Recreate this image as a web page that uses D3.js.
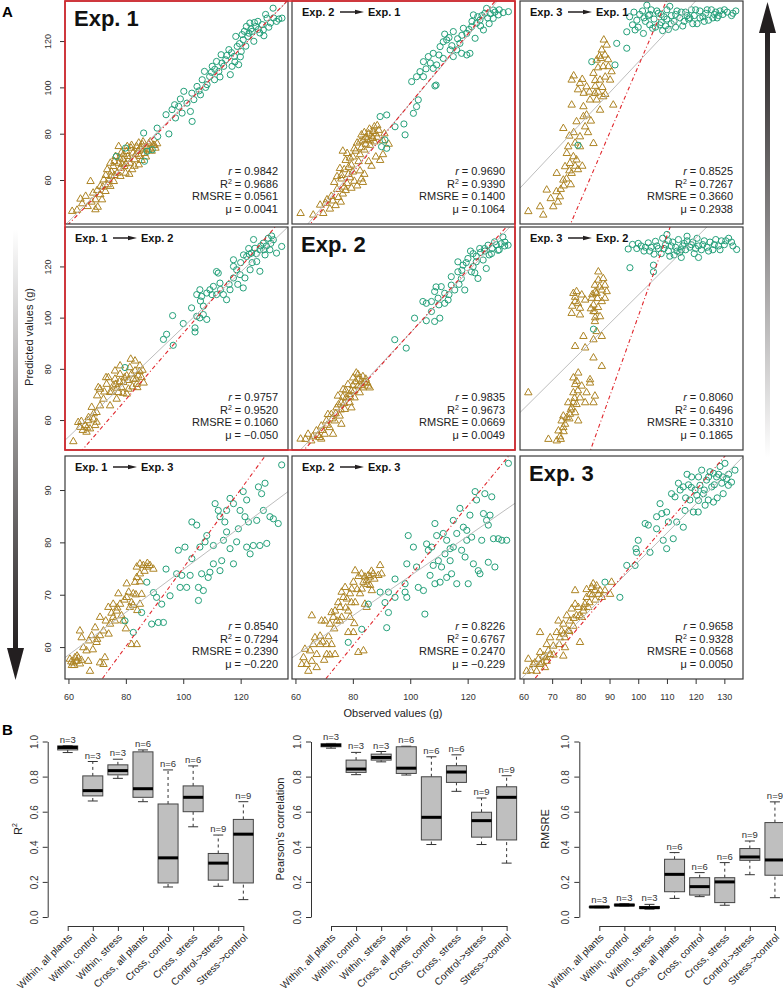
<!DOCTYPE html>
<html><head><meta charset="utf-8">
<script src="https://cdn.jsdelivr.net/npm/d3@7"></script>
<style>body{margin:0;background:#fff}svg{display:block;font-family:"Liberation Sans",Arial,sans-serif}</style>
</head><body><svg id="c" width="783" height="994"></svg>
<script>
// ---------------- DATA ----------------
const xDomain = [58.8, 136.5];
const yDomains = [[41.0, 137.3], [48.3, 135.4], [53.9, 96.5]];
const yTicksRow = [[60, 80, 100, 120], [60, 80, 100, 120], [60, 70, 80, 90]];
const xTicksCol = [[60, 80, 100, 120], [60, 80, 100, 120], [60, 70, 80, 90, 100, 110, 120, 130]];

const fromExp = ["Exp. 1", "Exp. 2", "Exp. 3", "Exp. 1", "Exp. 2", "Exp. 3", "Exp. 1", "Exp. 2", "Exp. 3"];
const toExp   = ["Exp. 1", "Exp. 1", "Exp. 1", "Exp. 2", "Exp. 2", "Exp. 2", "Exp. 3", "Exp. 3", "Exp. 3"];

const statR     = ["0.9842", "0.9690", "0.8525", "0.9757", "0.9835", "0.8060", "0.8540", "0.8226", "0.9658"];
const statR2    = ["0.9686", "0.9390", "0.7267", "0.9520", "0.9673", "0.6496", "0.7294", "0.6767", "0.9328"];
const statRMSRE = ["0.0561", "0.1400", "0.3660", "0.1060", "0.0669", "0.3310", "0.2390", "0.2470", "0.0568"];
const statMu    = ["0.0041", "0.1064", "0.2938", "\u22120.050", "0.0049", "0.1865", "\u22120.220", "\u22120.229", "0.0050"];

// regression (grey) and reference (red dash-dot) lines: [intercept, slope]
const fitLines = [[-32.9, 1.248], [-52.8, 1.459], [-21.1, 1.32], [-11.0, 1.073], [-25.4, 1.194], [-2.5, 1.113], [34.0, 0.408], [35.6, 0.380], [21.4, 0.549]];
const refLines = [[-35.0, 1.265], [-56.3, 1.494], [-179.5, 2.886], [-35.7, 1.296], [-29.5, 1.235], [-213.5, 3.14], [0.1, 0.750], [6.8, 0.668], [12.9, 0.642]];

// stress plants (triangles), [observed, predicted]
const stress11 = [[61.3,46.5],[64.2,51.8],[64.8,49.8],[66.7,48.6],[67.7,59.4],[68.6,54.4],[69.4,51.5],[70.2,48.3],[71.1,57.3],[71.1,53.7],[72.3,60.1],[72.9,55.1],[73.5,64.5],[73.7,58.0],[74.6,67.3],[74.9,61.6],[75.6,65.9],[75.8,59.4],[76.4,70.2],[77.0,63.0],[77.5,67.3],[78.1,65.2],[78.4,71.7],[79.0,68.8],[79.5,65.9],[80.2,72.4],[80.7,70.2],[81.4,67.3],[81.8,73.8],[82.5,71.7],[83.0,68.8],[83.7,74.5],[84.2,72.4],[84.9,70.2],[85.7,75.3],[86.2,73.1],[87.2,74.5],[88.0,75.7],[88.6,73.4],[89.5,75.1],[90.3,73.8],[90.9,75.7],[82.2,64.5],[78.1,61.6],[74.6,57.3],[71.7,51.5],[69.4,47.2],[77.5,74.5],[79.9,63.0],[84.5,66.6],[73.0,62.0],[75.0,63.5],[76.0,68.0],[77.8,69.5],[79.2,71.0],[80.0,67.0],[81.0,69.0],[82.0,75.0],[83.5,71.0],[85.0,73.8],[86.5,71.5],[87.8,73.0],[89.0,72.5],[86.0,76.5],[84.5,76.0],[80.5,74.5],[76.0,62.0],[74.0,60.0],[72.0,57.0],[70.0,55.5],[68.0,50.5],[66.0,53.0],[63.0,47.0],[78.7,66.8],[81.2,62.5],[83.0,66.0],[85.5,68.5],[88.5,76.5],[90.0,75.0],[87.0,70.0]];
const stress12 = [[61.8,45.6],[66.2,44.9],[68.6,49.2],[69.7,45.6],[70.5,50.0],[72.0,47.5],[73.0,51.0],[74.0,49.0],[75.0,52.5],[75.8,50.5],[76.5,54.0],[77.5,55.5],[74.5,56.0],[73.5,59.0],[76.0,60.5],[78.0,58.5],[79.0,61.0],[80.5,59.5],[78.5,62.5],[77.0,64.5],[80.0,63.5],[81.5,57.5],[79.5,66.5],[77.5,68.5],[78.0,71.5],[80.0,70.0],[81.0,72.5],[82.0,68.0],[83.0,74.0],[82.5,76.5],[84.0,73.0],[85.0,77.5],[86.0,75.0],[86.5,79.0],[87.5,76.5],[88.5,78.5],[89.0,81.5],[87.0,81.0],[90.5,77.0],[85.5,68.0],[88.0,70.0],[86.5,66.0],[76.5,72.5],[75.5,65.0],[84.0,80.5],[88.5,83.5],[91.0,80.0],[92.5,75.5],[83.0,60.5],[84.0,62.5],[82.5,64.0],[89.5,68.5],[90.5,71.0],[83.5,77.0],[84.5,78.5],[85.5,80.0],[86.0,77.0],[87.0,78.0],[88.0,80.0],[84.5,75.5],[85.8,82.0],[87.5,83.0],[83.0,79.5],[81.5,76.0],[80.5,73.5],[79.0,69.5],[82.5,71.0],[78.5,65.5],[76.0,62.0],[74.5,61.5],[72.5,53.0],[71.0,51.5],[77.0,57.0],[79.5,56.5],[83.5,59.0]];
const stress13 = [[61.7,46.4],[66.9,44.9],[65.8,48.5],[68.1,55.7],[70.4,48.5],[71.6,62.9],[72.7,52.8],[73.9,60.0],[74.5,65.8],[75.1,71.5],[75.6,74.4],[76.2,67.2],[76.8,62.9],[77.4,70.1],[78.5,68.7],[79.7,74.4],[79.7,78.7],[81.5,83.0],[80.9,87.4],[82.0,88.1],[84.4,75.8],[76.8,103.2],[79.7,101.8],[82.0,100.3],[76.8,92.4],[80.9,91.7],[73.9,82.3],[78.5,85.2],[85.5,94.6],[86.7,103.2],[87.8,109.0],[89.0,118.3],[88.4,114.0],[85.5,111.8],[84.4,106.1],[90.2,103.2],[90.7,106.8],[91.3,92.4],[86.7,90.2],[87.8,96.0],[84.9,97.4],[83.2,94.6],[89.6,109.0],[87.3,116.2],[74.0,57.5],[76.5,58.0],[79.0,64.5],[80.5,66.0],[78.0,76.0],[82.5,80.5],[83.5,85.5],[85.0,100.5],[81.0,97.5],[88.5,104.5],[86.0,108.5],[89.5,112.0],[77.5,105.0],[79.0,99.0],[80.5,103.5],[83.0,98.0],[85.0,103.0],[86.0,98.0],[87.5,100.0],[88.5,97.0],[87.0,112.5],[88.0,120.5],[86.5,113.5],[76.0,79.0],[77.5,80.5],[78.0,66.0],[76.0,64.0],[75.0,60.5],[73.0,56.0],[71.5,55.0],[69.5,52.0],[72.0,50.5]];
const stress21 = [[61.7,51.6],[63.4,59.1],[64.0,57.2],[65.8,57.9],[66.3,55.3],[66.9,59.8],[67.5,56.6],[68.7,60.4],[69.3,57.9],[69.8,59.2],[68.1,65.0],[69.8,63.0],[71.0,65.6],[70.4,72.7],[72.2,68.2],[73.3,74.0],[73.9,76.6],[74.5,70.8],[75.6,73.4],[76.2,76.0],[76.8,68.2],[78.0,77.9],[78.5,72.7],[79.1,74.7],[80.3,77.3],[80.9,72.1],[81.4,80.5],[81.7,83.8],[82.6,76.0],[83.2,79.2],[83.8,74.0],[84.3,77.3],[84.9,81.2],[85.5,76.6],[84.0,72.7],[80.3,70.2],[77.4,70.8],[74.5,65.6],[76.2,79.2],[73.1,76.6],[71.0,72.1],[78.0,81.2],[83.2,83.1],[75.0,71.0],[76.5,74.0],[77.8,75.0],[79.5,76.5],[80.8,75.5],[82.0,78.0],[83.5,76.0],[84.8,79.0],[85.8,79.5],[86.2,74.5],[82.3,73.0],[79.0,70.5],[77.0,72.5],[72.5,71.0],[70.0,69.5],[68.8,62.5],[67.0,61.0],[65.0,56.0],[64.5,59.5],[66.5,57.0]];
const stress22 = [[61.8,52.6],[64.4,54.5],[65.5,51.9],[67.3,55.8],[68.4,53.2],[69.0,57.7],[70.2,54.5],[70.8,59.7],[71.9,57.1],[72.5,62.2],[73.7,59.7],[74.3,64.8],[74.8,69.4],[75.4,61.6],[76.0,66.8],[76.6,71.9],[77.2,64.2],[77.7,68.7],[78.3,73.9],[78.9,66.8],[79.5,71.3],[80.1,76.5],[80.6,68.7],[81.2,78.4],[81.8,73.3],[82.4,70.7],[83.0,75.2],[83.5,72.6],[84.1,74.6],[85.3,73.3],[85.9,72.6],[81.8,77.8],[71.3,62.2],[69.0,52.6],[73.1,54.5],[76.0,58.4],[79.5,64.8],[74.0,62.5],[75.0,66.0],[76.5,69.0],[77.5,71.5],[78.8,70.0],[80.0,73.5],[81.0,75.0],[82.0,76.0],[83.5,77.0],[84.5,76.0],[85.0,74.5],[82.8,73.5],[80.5,71.5],[79.0,69.0],[77.0,66.5],[75.8,64.0],[72.8,60.5],[71.0,58.0],[69.5,56.0],[67.8,54.0],[66.0,53.5],[63.5,52.5]];
const stress23 = [[61.7,70.7],[68.7,52.5],[71.6,51.9],[72.7,53.5],[72.2,55.8],[73.9,57.1],[73.3,59.7],[74.5,58.4],[75.1,61.0],[73.9,61.6],[76.2,62.3],[76.8,64.8],[78.0,62.9],[78.5,66.1],[77.4,66.8],[79.1,59.7],[75.6,66.8],[77.4,70.7],[79.7,68.7],[81.5,66.8],[84.4,66.8],[84.9,69.4],[82.0,70.7],[80.3,73.3],[78.0,73.9],[77.4,76.5],[79.1,78.4],[78.5,75.2],[83.2,75.8],[83.2,74.5],[87.3,81.0],[84.4,84.3],[78.0,88.8],[81.5,88.2],[80.9,92.7],[84.4,91.4],[87.3,92.7],[85.5,94.6],[84.9,98.5],[86.7,100.4],[84.9,102.4],[84.4,105.0],[83.8,107.6],[85.5,109.5],[84.9,112.7],[86.1,114.7],[87.8,115.3],[88.4,112.7],[89.0,110.2],[87.3,110.8],[88.4,107.6],[86.1,117.9],[87.3,106.3],[80.3,108.9],[78.5,110.2],[77.4,109.5],[81.5,106.9],[78.0,106.3],[79.7,103.7],[76.8,101.7],[79.7,101.1],[84.4,102.4],[85.0,110.0],[86.5,112.0],[85.8,107.5],[84.0,109.0],[86.0,104.0],[83.5,103.5],[85.0,100.0],[79.0,105.5],[78.0,108.0],[77.0,104.5],[76.5,64.0],[77.8,68.5],[79.0,71.5],[76.0,60.5],[74.0,55.5],[73.0,52.5]];
const stress31 = [[64.0,63.1],[64.6,61.8],[67.5,55.4],[69.8,60.9],[71.0,62.2],[72.7,58.0],[72.2,56.7],[74.5,64.4],[75.6,65.7],[76.8,66.9],[78.0,68.2],[80.3,72.1],[81.4,67.6],[82.6,70.2],[83.2,72.4],[83.8,75.3],[84.9,75.9],[86.1,75.6],[87.3,75.3],[88.4,75.6],[89.6,74.9],[84.9,74.0],[83.8,73.3],[82.0,60.5],[83.8,60.5],[82.0,68.5],[84.9,68.2],[85.5,70.1],[80.3,69.5],[79.1,65.0],[76.2,65.0],[73.9,67.6],[71.0,65.7],[69.3,63.7],[67.1,61.2],[65.2,59.9],[68.1,62.2],[72.2,63.1],[77.4,70.2],[75.6,68.2],[60.5,57.7],[61.7,57.0],[62.9,57.3],[64.0,56.8],[62.3,58.0],[66.9,57.3],[66.3,59.3],[71.0,57.0],[61.2,56.5],[63.5,57.9],[61.0,57.2],[62.0,56.5],[63.0,58.3],[64.5,57.5],[73.0,65.0],[74.0,62.5],[75.0,66.5],[77.0,67.5],[78.5,66.0],[79.5,69.0],[81.0,70.5],[82.5,68.0],[83.5,70.0],[84.0,67.0],[85.0,72.5],[86.5,74.5],[87.5,76.0],[80.0,63.5],[70.0,61.5],[68.5,59.5]];
const stress32 = [[62.2,56.7],[62.8,58.0],[63.9,56.7],[64.5,55.4],[65.1,59.3],[63.3,59.6],[65.7,66.0],[66.2,60.5],[66.8,61.8],[67.4,56.1],[67.4,58.6],[68.6,60.5],[68.6,62.1],[69.1,65.0],[70.3,65.0],[70.9,60.5],[70.9,58.6],[72.0,64.4],[72.6,66.6],[73.2,65.7],[73.8,66.9],[74.4,65.0],[74.9,68.5],[75.5,67.6],[76.1,70.5],[76.7,69.5],[76.1,65.7],[77.3,71.4],[77.9,69.2],[78.4,66.9],[79.0,70.2],[79.6,71.1],[80.2,72.4],[80.8,74.6],[80.8,68.5],[82.5,70.2],[83.1,71.1],[83.7,72.4],[84.2,73.4],[84.8,72.7],[85.4,73.7],[86.0,73.4],[87.1,74.0],[88.9,73.7],[89.5,75.6],[90.0,74.0],[80.2,62.8],[72.6,60.5],[73.8,58.6],[81.9,59.0],[83.7,59.3],[79.0,65.7],[84.8,67.6],[86.0,71.8],[86.6,70.8],[78.4,62.8],[65.7,57.3],[84.2,68.2],[79.5,68.5],[81.5,71.0],[82.0,73.5],[83.0,74.0],[85.0,72.0],[86.5,74.5],[87.5,73.0],[77.5,67.5],[75.5,65.0],[73.5,63.5],[71.5,62.0],[69.5,61.0],[70.0,57.5],[72.0,58.5],[80.5,64.5]];
const stress33 = [[61.1,55.4],[61.7,57.7],[63.4,56.7],[64.6,55.4],[65.2,57.7],[65.8,56.7],[67.0,58.3],[67.5,56.1],[68.1,57.3],[65.8,59.0],[69.3,58.6],[68.1,60.5],[69.3,61.8],[70.4,60.2],[72.2,65.0],[72.7,61.8],[73.3,63.1],[73.9,64.4],[74.5,61.8],[75.1,66.0],[75.6,63.1],[76.2,65.0],[76.8,67.3],[77.4,64.0],[78.0,68.2],[78.5,66.0],[79.1,67.6],[79.7,60.9],[80.3,65.7],[80.9,66.9],[81.4,68.2],[82.0,69.5],[82.6,67.6],[83.2,70.1],[83.8,71.4],[84.3,72.1],[84.9,70.8],[85.5,71.7],[86.1,70.1],[86.7,70.8],[87.3,69.5],[88.4,70.8],[90.2,70.1],[90.7,72.4],[78.0,70.8],[71.6,62.8],[68.7,59.3],[73.9,58.3],[65.8,62.8],[74.5,59.9],[81.0,67.5],[82.0,71.0],[83.0,68.5],[84.0,70.0],[85.0,69.0],[79.5,66.0],[77.5,65.5],[76.0,63.0],[74.0,62.5],[72.5,60.5],[70.5,58.5],[68.0,58.0],[66.5,57.0],[64.0,57.0],[62.5,55.5]];

// control plants (circles), [observed, predicted]
const control11 = [[76.7,70.2],[79.9,73.8],[86.2,80.3],[86.5,68.1],[87.4,72.4],[91.1,78.8],[95.0,79.9],[94.0,88.2],[96.1,90.4],[97.3,86.8],[98.4,91.8],[99.6,88.9],[100.2,98.3],[101.3,93.2],[102.5,89.6],[103.7,94.7],[104.8,100.4],[106.0,96.8],[106.6,103.3],[107.4,106.9],[108.3,101.2],[109.2,104.7],[110.1,109.1],[110.9,103.3],[111.6,111.2],[112.4,106.9],[113.2,114.1],[114.1,109.1],[114.8,111.9],[115.9,116.3],[116.4,105.5],[117.0,109.1],[117.8,113.4],[118.8,117.7],[119.3,109.8],[120.2,115.5],[120.9,120.6],[121.3,124.2],[122.0,126.3],[122.5,122.0],[123.2,127.8],[124.0,124.2],[124.6,119.9],[125.3,126.3],[126.0,128.5],[126.7,123.5],[127.5,127.1],[128.1,122.3],[129.2,129.9],[130.4,127.8],[131.3,134.2],[132.5,128.5],[134.4,129.9],[133.3,129.5],[118.3,122.0],[103.1,85.3],[90.9,82.4],[89.2,73.1],[105.5,98.5],[107.8,100.0],[109.8,106.5],[111.0,107.8],[113.5,110.5],[115.2,113.8],[116.8,115.0],[118.0,111.0],[119.6,118.9],[121.8,117.8],[123.6,125.2],[124.8,128.0],[126.2,125.0],[127.9,124.8],[129.8,126.0],[131.5,130.0],[128.7,131.5],[122.9,123.4],[120.5,122.8],[103.0,97.5],[99.0,95.0],[97.0,92.5],[112.8,104.5],[119.9,113.2]];
const control12 = [[89.5,87.4],[91.8,88.1],[91.8,73.7],[94.7,83.0],[98.2,79.5],[97.8,84.2],[101.1,88.8],[102.2,91.7],[100.5,102.5],[102.2,104.6],[103.4,106.8],[108.0,108.2],[109.0,101.0],[104.6,111.1],[106.3,113.3],[108.0,114.7],[110.4,117.6],[111.5,119.7],[112.7,120.5],[115.0,124.1],[116.2,116.2],[117.9,114.7],[119.7,114.0],[120.8,114.7],[115.0,113.3],[117.3,119.0],[119.7,123.3],[121.4,126.2],[123.1,127.7],[122.6,121.2],[124.3,129.1],[126.0,132.0],[126.6,134.1],[128.9,133.4],[130.7,131.3],[132.4,132.3],[134.2,132.7],[128.9,129.8],[125.5,124.8],[122.0,131.3],[118.5,125.5],[113.9,116.2],[111.5,112.5],[109.2,109.7],[104.6,104.6],[102.8,94.6],[91.2,77.3],[90.0,74.4],[108.6,100.6],[112.0,123.0],[113.5,121.5],[114.5,118.0],[116.5,121.0],[118.0,122.5],[120.5,125.0],[121.5,128.5],[123.5,130.5],[125.0,131.0],[127.0,130.0],[128.0,131.8],[129.5,132.5],[131.0,133.5],[127.5,127.5],[124.5,126.5],[110.0,114.0],[107.0,110.5],[105.5,108.0]];
const control13 = [[97.0,130.5],[98.5,132.5],[99.5,129.0],[100.5,131.5],[101.5,133.0],[102.5,128.5],[103.5,131.0],[104.5,133.5],[105.5,129.5],[106.0,126.0],[107.0,132.0],[108.0,128.0],[109.0,130.5],[110.0,133.5],[110.5,125.0],[111.5,131.0],[112.5,128.5],[113.5,133.0],[114.5,130.0],[115.5,126.5],[116.5,132.5],[117.5,129.5],[118.5,133.5],[119.5,131.0],[120.5,127.5],[121.5,133.0],[122.5,130.5],[123.5,132.0],[124.5,129.0],[125.5,133.5],[126.5,131.5],[127.5,130.0],[128.5,133.0],[129.5,131.5],[131.0,132.5],[132.5,131.0],[134.0,133.0],[113.0,126.0],[116.0,128.5],[104.0,127.0],[100.0,126.0],[96.0,124.0],[98.9,124.8],[101.8,123.3],[92.5,119.0],[96.0,116.9],[91.9,109.7],[83.8,111.1],[79.0,75.0],[108.5,124.5],[119.0,127.5],[111.0,135.0],[103.0,135.5],[98.0,127.0],[102.0,130.0],[104.0,131.5],[106.5,133.0],[108.0,131.5],[110.0,129.5],[111.5,127.5],[113.0,131.5],[115.0,132.5],[117.0,131.0],[118.0,130.0],[120.0,133.5],[121.5,130.0],[123.0,128.5],[124.0,133.5],[126.0,130.0],[127.0,132.5],[128.0,131.0],[130.0,133.5],[133.0,132.0],[107.5,127.0],[109.5,126.5],[105.0,125.5]];
const control21 = [[79.7,80.5],[93.1,91.5],[94.2,93.5],[96.5,89.2],[96.3,100.8],[100.0,97.7],[104.1,96.0],[104.1,94.4],[104.7,100.5],[105.8,99.9],[107.0,101.2],[108.2,99.3],[102.9,103.8],[107.0,104.5],[104.7,109.0],[105.8,110.9],[106.4,108.3],[108.2,109.6],[109.3,110.9],[110.5,112.2],[111.6,109.0],[112.2,117.4],[112.8,113.5],[114.0,109.0],[115.1,107.0],[116.3,110.9],[117.5,115.5],[117.5,120.0],[118.6,118.7],[119.8,116.8],[120.9,111.6],[121.5,115.5],[122.1,123.9],[123.3,118.7],[123.8,125.2],[125.0,127.1],[125.6,121.9],[126.7,126.5],[127.9,129.1],[128.5,124.5],[129.6,131.0],[130.2,126.5],[131.4,130.4],[132.5,125.2],[134.3,127.8],[130.8,131.9],[126.7,118.1],[111.6,118.0],[117.5,122.6],[120.0,121.5],[121.0,124.5],[122.8,127.0],[124.0,121.5],[125.5,125.0],[127.0,128.0],[128.0,126.5],[129.0,128.0],[130.5,129.0],[124.5,130.5],[123.0,124.8],[119.0,113.0],[116.0,113.0],[113.0,111.0],[110.0,109.0],[106.0,106.5]];
const control22 = [[94.6,91.4],[98.6,88.1],[101.5,99.8],[104.4,106.3],[105.6,98.8],[108.5,98.5],[110.3,99.8],[107.4,106.3],[108.5,110.2],[109.7,107.6],[110.8,112.1],[112.0,109.5],[113.2,106.9],[114.3,112.7],[115.5,110.8],[114.3,116.0],[116.6,117.9],[117.8,115.3],[119.0,110.8],[118.4,120.5],[120.1,123.1],[121.3,117.9],[121.9,125.0],[123.6,115.3],[124.2,127.0],[125.4,122.5],[126.5,119.2],[127.1,128.3],[128.3,125.0],[129.4,129.6],[130.6,126.3],[131.7,128.9],[132.9,128.0],[134.1,128.3],[132.3,131.5],[121.9,119.9],[123.0,121.8],[116.6,121.8],[112.0,105.6],[105.6,105.6],[107.4,102.4],[125.9,127.0],[118.0,118.5],[119.5,121.5],[121.0,126.0],[123.0,124.0],[124.5,125.5],[126.0,126.0],[127.5,124.5],[128.5,127.0],[130.0,128.5],[131.0,126.5],[133.0,129.5],[122.5,117.5],[117.0,113.0],[113.5,109.0],[110.0,105.0],[109.0,112.0]];
const control23 = [[96.5,126.8],[98.0,128.6],[99.5,127.0],[101.0,128.0],[102.0,126.0],[103.5,129.2],[104.5,127.5],[105.5,124.8],[106.0,129.8],[107.0,127.0],[108.0,125.0],[108.5,131.0],[109.5,128.5],[110.5,126.0],[111.0,124.0],[112.0,129.5],[113.0,127.5],[114.0,130.5],[114.5,125.5],[115.5,128.0],[116.5,126.5],[117.0,130.0],[118.0,127.5],[119.0,129.5],[119.5,125.0],[120.5,131.0],[121.0,128.0],[122.0,126.5],[123.0,130.0],[124.0,127.5],[125.0,129.5],[126.0,126.5],[127.0,130.5],[128.0,128.0],[129.0,130.0],[130.0,128.5],[131.5,131.0],[132.5,129.5],[134.3,126.6],[117.0,131.8],[121.0,123.5],[112.5,124.5],[97.1,119.5],[105.3,120.5],[105.3,117.9],[84.4,95.5],[110.0,132.5],[115.0,123.5],[100.0,129.0],[102.5,127.5],[104.0,126.0],[106.5,128.0],[109.0,127.0],[111.5,128.0],[113.5,126.0],[116.0,129.0],[118.5,128.5],[120.0,127.0],[122.5,128.5],[124.5,126.0],[126.5,128.5],[128.5,126.5],[130.5,130.0],[133.0,128.0],[115.0,126.5],[110.5,130.0]];
const control31 = [[79.7,65.0],[82.6,62.8],[85.5,66.6],[87.3,72.4],[89.6,70.4],[90.7,69.5],[91.3,64.7],[93.1,64.7],[92.5,68.2],[94.0,74.9],[95.4,69.8],[97.7,74.0],[98.3,78.5],[98.9,71.4],[99.5,73.7],[100.6,79.1],[102.4,73.7],[103.0,76.9],[103.0,83.9],[104.7,83.3],[105.3,71.4],[105.3,68.9],[105.8,79.1],[106.4,74.0],[107.6,80.1],[108.2,81.3],[108.7,73.3],[109.3,74.3],[110.5,75.9],[110.5,79.4],[111.1,87.4],[112.2,86.1],[112.8,74.6],[113.4,76.5],[114.0,80.4],[114.5,83.9],[115.1,82.0],[115.1,86.1],[116.3,88.4],[116.3,78.8],[117.5,75.9],[118.6,80.1],[119.2,82.6],[119.8,86.1],[120.9,89.7],[121.5,84.9],[122.1,79.1],[122.7,83.9],[123.3,77.8],[124.4,79.4],[125.6,84.2],[126.2,90.6],[126.7,79.4],[127.3,89.3],[127.9,86.1],[128.5,91.3],[129.1,79.8],[130.2,84.9],[131.4,84.5],[133.1,83.6],[134.3,94.8],[122.1,88.1],[117.5,87.4],[112.8,84.9],[107.0,70.8],[101.2,71.4],[89.0,64.4]];
const control32 = [[78.4,60.9],[83.1,63.4],[85.4,68.2],[89.5,70.5],[91.2,68.5],[92.4,70.5],[92.4,66.6],[91.8,63.7],[94.7,69.5],[94.7,73.0],[98.2,70.5],[98.8,69.5],[98.8,75.9],[98.2,72.1],[99.3,81.3],[101.1,79.1],[102.2,75.3],[102.8,71.4],[104.6,70.8],[105.1,66.3],[105.7,79.7],[106.3,78.5],[106.9,73.7],[107.5,79.1],[108.0,75.6],[108.6,83.6],[108.6,72.1],[109.8,76.5],[110.4,72.4],[110.9,75.3],[111.5,81.7],[112.1,77.8],[112.7,80.4],[112.7,73.3],[113.9,76.5],[114.4,74.0],[115.0,84.2],[115.0,79.1],[116.2,81.7],[116.2,72.1],[117.3,86.5],[117.9,78.5],[118.5,82.9],[119.1,77.2],[119.7,80.4],[120.2,72.1],[120.8,85.2],[121.4,81.0],[122.0,75.9],[122.6,89.7],[123.1,88.1],[123.7,74.6],[124.3,74.0],[124.9,80.4],[125.5,85.5],[126.0,89.3],[126.6,84.2],[127.2,76.2],[127.8,85.2],[128.4,88.7],[129.0,80.7],[129.5,75.3],[130.7,80.7],[131.9,80.4],[133.6,80.4],[134.2,95.1],[127.2,83.3],[119.7,82.3],[113.9,78.8],[109.2,81.3]];
const control33 = [[88.4,72.4],[93.6,69.5],[96.0,75.6],[98.9,75.6],[99.4,78.1],[99.2,78.8],[100.0,80.4],[102.4,83.6],[103.5,83.3],[104.1,78.1],[106.4,82.6],[106.4,84.9],[108.7,80.4],[109.9,78.8],[108.2,85.5],[109.9,85.8],[110.5,83.9],[107.6,87.4],[111.6,89.3],[112.8,88.7],[112.2,80.7],[115.7,82.9],[114.0,91.3],[115.7,90.6],[116.3,86.1],[117.5,91.0],[118.0,88.1],[118.6,92.5],[119.8,90.0],[120.9,85.8],[121.5,90.9],[122.1,93.8],[122.7,89.3],[123.8,91.9],[124.4,88.1],[125.0,93.5],[125.6,90.6],[126.2,87.7],[127.3,92.5],[128.5,94.5],[129.1,91.3],[129.6,89.3],[130.8,92.2],[131.4,90.9],[133.7,93.8],[130.2,95.1],[123.3,87.1],[119.2,85.8],[114.6,90.0],[120.4,89.0],[126.2,93.2],[113.4,83.9],[116.5,88.5],[118.5,90.5],[121.0,92.5],[123.0,90.0],[124.5,92.5],[126.5,91.0],[127.5,88.5],[128.0,93.0],[129.5,92.5],[131.5,93.0],[132.5,91.5],[121.0,88.0],[117.0,93.0]];

const stressSets  = [stress11, stress12, stress13, stress21, stress22, stress23, stress31, stress32, stress33];
const controlSets = [control11, control12, control13, control21, control22, control23, control31, control32, control33];

// Panel B
const catLabels = ["Within, all plants", "Within, control", "Within, stress", "Cross, all plants", "Cross, control", "Cross, stress", "Control->stress", "Stress->control"];
const nCounts = [3, 3, 3, 6, 6, 6, 9, 9];
const bTicks = [0, 0.2, 0.4, 0.6, 0.8, 1.0];
// [min, q1, median, q3, max]
const r2Box = [[0.937,0.952,0.966,0.975,0.977],[0.661,0.690,0.720,0.804,0.886],[0.790,0.810,0.834,0.867,0.899],[0.657,0.682,0.731,0.941,0.952],[0.171,0.194,0.337,0.644,0.838],[0.514,0.600,0.682,0.747,0.861],[0.175,0.210,0.307,0.362,0.467],[0.099,0.194,0.472,0.556,0.657]];
const pearsonBox = [[0.962,0.970,0.979,0.987,0.989],[0.811,0.824,0.843,0.894,0.938],[0.884,0.894,0.909,0.928,0.943],[0.809,0.818,0.848,0.970,0.973],[0.413,0.439,0.568,0.799,0.913],[0.716,0.767,0.826,0.862,0.924],[0.413,0.455,0.549,0.597,0.678],[0.307,0.439,0.682,0.742,0.805]];
const rmsreBox = [[0.053,0.054,0.057,0.060,0.061],[0.063,0.064,0.068,0.073,0.076],[0.045,0.049,0.053,0.060,0.072],[0.106,0.144,0.243,0.329,0.367],[0.116,0.125,0.173,0.224,0.253],[0.067,0.082,0.200,0.224,0.310],[0.241,0.323,0.342,0.390,0.433],[0.110,0.238,0.325,0.538,0.656]];

// ---------------- DRAWING ----------------
const svg = d3.select("#c");
const defs = svg.append("defs");
const GREEN = "#24a07a", BROWN = "#ad8424", RED = "#e0252b", DARK = "#231f20";
const W = 223, H = 223;
const colLeft = [65, 292, 520], rowTop = [1, 227, 456];

// side arrows
const gL = defs.append("linearGradient").attr("id", "gL").attr("x1", 0).attr("y1", 0).attr("x2", 0).attr("y2", 1);
gL.append("stop").attr("offset", 0).attr("stop-color", "#ffffff");
gL.append("stop").attr("offset", 1).attr("stop-color", DARK);
const gR = defs.append("linearGradient").attr("id", "gR").attr("x1", 0).attr("y1", 0).attr("x2", 0).attr("y2", 1);
gR.append("stop").attr("offset", 0).attr("stop-color", DARK);
gR.append("stop").attr("offset", 1).attr("stop-color", "#ffffff");
svg.append("rect").attr("x", 13).attr("y", 230).attr("width", 5).attr("height", 420).attr("fill", "url(#gL)");
svg.append("path").attr("d", "M7,648L24,648L15.5,680Z").attr("fill", DARK);
svg.append("rect").attr("x", 765).attr("y", 31).attr("width", 5).attr("height", 426).attr("fill", "url(#gR)");
svg.append("path").attr("d", "M759,33L776,33L767.5,2Z").attr("fill", DARK);

svg.append("text").attr("x", 2).attr("y", 17).attr("font-size", 15).attr("font-weight", "bold").text("A");
svg.append("text").attr("x", 2).attr("y", 735).attr("font-size", 15).attr("font-weight", "bold").text("B");

const tri = d3.symbol().type(d3.symbolTriangle).size(24);

function styleAxis(g, fs) {
  g.attr("font-family", null).attr("font-size", fs);
  g.selectAll("line").attr("stroke", "#333");
  g.selectAll("path.domain").attr("stroke", "#333");
  g.selectAll("text").attr("fill", "#333");
}

for (let p = 0; p < 9; p++) {
  const r = Math.floor(p / 3), c = p % 3;
  const x0 = colLeft[c], y0 = rowTop[r];
  const x = d3.scaleLinear().domain(xDomain).range([x0, x0 + W]);
  const y = d3.scaleLinear().domain(yDomains[r]).range([y0 + H, y0]);
  defs.append("clipPath").attr("id", "clip" + p).append("rect").attr("x", x0).attr("y", y0).attr("width", W).attr("height", H);
  const g = svg.append("g").attr("clip-path", `url(#clip${p})`);

  g.selectAll("path.t").data(stressSets[p]).join("path").attr("class", "t")
    .attr("d", tri).attr("transform", d => `translate(${x(d[0])},${y(d[1])})`)
    .attr("fill", "none").attr("stroke", BROWN).attr("stroke-width", 1);
  g.selectAll("circle").data(controlSets[p]).join("circle")
    .attr("cx", d => x(d[0])).attr("cy", d => y(d[1])).attr("r", 3.1)
    .attr("fill", "none").attr("stroke", GREEN).attr("stroke-width", 1);

  const [fa, fb] = fitLines[p];
  g.append("line").attr("x1", x(xDomain[0])).attr("y1", y(fa + fb * xDomain[0]))
    .attr("x2", x(xDomain[1])).attr("y2", y(fa + fb * xDomain[1]))
    .attr("stroke", "#bdbdbd").attr("stroke-width", 1);
  const [ra, rb] = refLines[p];
  g.append("line").attr("x1", x(xDomain[0])).attr("y1", y(ra + rb * xDomain[0]))
    .attr("x2", x(xDomain[1])).attr("y2", y(ra + rb * xDomain[1]))
    .attr("stroke", RED).attr("stroke-width", 1.1).attr("stroke-dasharray", "1,2.5,4,2.5");

  svg.append("rect").attr("x", x0).attr("y", y0).attr("width", W).attr("height", H)
    .attr("fill", "none").attr("stroke", "#3a3a3a").attr("stroke-width", 1.2);

  // title
  if (fromExp[p] === toExp[p]) {
    svg.append("text").attr("x", x0 + 9).attr("y", y0 + 25).attr("font-size", 22).attr("font-weight", "bold").attr("fill", "#111").text(fromExp[p]);
  } else {
    const ty = y0 + 15;
    svg.append("text").attr("x", x0 + 10).attr("y", ty).attr("font-size", 11).attr("font-weight", "bold").attr("fill", "#111").text(fromExp[p]);
    svg.append("line").attr("x1", x0 + 48).attr("x2", x0 + 65).attr("y1", ty - 4).attr("y2", ty - 4).attr("stroke", DARK).attr("stroke-width", 1.5);
    svg.append("path").attr("d", `M${x0 + 63},${ty - 6.3}L${x0 + 72},${ty - 4}L${x0 + 63},${ty - 1.7}Z`).attr("fill", DARK);
    svg.append("text").attr("x", x0 + 76).attr("y", ty).attr("font-size", 11).attr("font-weight", "bold").attr("fill", "#111").text(toExp[p]);
  }

  // stats
  const sx = x0 + W - 10, sb = y0 + H - 11;
  const st = svg.append("g").attr("font-size", 11).attr("fill", "#222").attr("text-anchor", "end");
  const t1 = st.append("text").attr("x", sx).attr("y", sb - 38);
  t1.append("tspan").attr("font-style", "italic").text("r");
  t1.append("tspan").text(" = " + statR[p]);
  const t2 = st.append("text").attr("x", sx).attr("y", sb - 25.3);
  t2.append("tspan").text("R");
  t2.append("tspan").attr("font-size", 7).attr("dy", -4).text("2");
  t2.append("tspan").attr("dy", 4).text(" = " + statR2[p]);
  st.append("text").attr("x", sx).attr("y", sb - 12.7).text("RMSRE = " + statRMSRE[p]);
  st.append("text").attr("x", sx).attr("y", sb).text("\u03bc = " + statMu[p]);

  // axes
  if (c === 0) {
    const ga = svg.append("g").attr("transform", `translate(${x0},0)`)
      .call(d3.axisLeft(y).tickValues(yTicksRow[r]).tickSize(5).tickFormat(d3.format("d")));
    ga.select(".domain").remove();
    styleAxis(ga, 9);
    ga.selectAll(".tick text").attr("x", 0).attr("y", 0).attr("dy", null).attr("text-anchor", "middle")
      .attr("dominant-baseline", "central").attr("transform", "translate(-17,0) rotate(-90)");
  }
  if (r === 2) {
    const gx = svg.append("g").attr("transform", `translate(0,${y0 + H})`)
      .call(d3.axisBottom(x).tickValues(xTicksCol[c]).tickSize(5).tickFormat(d3.format("d")));
    gx.select(".domain").remove();
    styleAxis(gx, 9);
    gx.selectAll(".tick text").attr("y", 18).attr("dy", "0.35em");
  }
}

// red frame around 2x2 block
svg.append("rect").attr("x", colLeft[0]).attr("y", rowTop[0])
  .attr("width", colLeft[1] + W - colLeft[0]).attr("height", rowTop[1] + H - rowTop[0])
  .attr("fill", "none").attr("stroke", RED).attr("stroke-width", 1.6);

svg.append("text").attr("transform", "translate(29,337) rotate(-90)").attr("text-anchor", "middle")
  .attr("dominant-baseline", "central").attr("font-size", 11).attr("fill", "#222").text("Predicted values (g)");
svg.append("text").attr("x", 393).attr("y", 713).attr("text-anchor", "middle")
  .attr("dominant-baseline", "central").attr("font-size", 11).attr("fill", "#222").text("Observed values (g)");

// ---------------- PANEL B ----------------
function boxPlot(axisX, stats, titleParts, titleX) {
  const yb = d3.scaleLinear().domain([0, 1]).range([917, 741.5]);
  const xb = d3.scaleLinear().domain([1, 8]).range([axisX + 20, axisX + 20 + 7 * 25.09]);
  const ya = svg.append("g").attr("transform", `translate(${axisX},0)`)
    .call(d3.axisLeft(yb).tickValues(bTicks).tickSize(5).tickSizeOuter(0).tickFormat(d3.format(".1f")));
  styleAxis(ya, 10);
  ya.selectAll(".tick text").attr("x", 0).attr("y", 0).attr("dy", null).attr("text-anchor", "middle")
    .attr("dominant-baseline", "central").attr("transform", "translate(-13.5,0) rotate(-90)");
  const xa = svg.append("g").attr("transform", "translate(0,926)")
    .call(d3.axisBottom(xb).tickValues(d3.range(1, 9)).tickSize(5).tickSizeOuter(0).tickFormat(""));
  styleAxis(xa, 10);
  catLabels.forEach((t, i) => {
    svg.append("text").attr("transform", `translate(${xb(i + 1) + 5},938) rotate(-45)`)
      .attr("text-anchor", "end").attr("font-size", 10).attr("fill", "#222").text(t);
  });
  const tt = svg.append("text").attr("transform", `translate(${titleX},829) rotate(-90)`).attr("text-anchor", "middle")
    .attr("dominant-baseline", "central").attr("font-size", 11).attr("fill", "#222");
  titleParts.forEach(tp => {
    const s = tt.append("tspan").text(tp.t);
    if (tp.sup) s.attr("font-size", 7).attr("dy", -4);
  });
  const bw = 20;
  stats.forEach((s, i) => {
    const cx = xb(i + 1);
    const gb = svg.append("g");
    gb.append("line").attr("x1", cx).attr("x2", cx).attr("y1", yb(s[0])).attr("y2", yb(s[1]))
      .attr("stroke", "#333").attr("stroke-dasharray", "3,3");
    gb.append("line").attr("x1", cx).attr("x2", cx).attr("y1", yb(s[3])).attr("y2", yb(s[4]))
      .attr("stroke", "#333").attr("stroke-dasharray", "3,3");
    [s[0], s[4]].forEach(v => gb.append("line").attr("x1", cx - 5).attr("x2", cx + 5).attr("y1", yb(v)).attr("y2", yb(v)).attr("stroke", "#333"));
    gb.append("rect").attr("x", cx - bw / 2).attr("width", bw).attr("y", yb(s[3])).attr("height", yb(s[1]) - yb(s[3]))
      .attr("fill", "#bfbfbf").attr("stroke", "#444").attr("stroke-width", 1);
    gb.append("line").attr("x1", cx - bw / 2).attr("x2", cx + bw / 2).attr("y1", yb(s[2])).attr("y2", yb(s[2]))
      .attr("stroke", "#000").attr("stroke-width", 3);
    gb.append("text").attr("x", cx).attr("y", yb(s[4]) - 3).attr("text-anchor", "middle")
      .attr("font-size", 9.5).attr("fill", "#333").text("n=" + nCounts[i]);
  });
}
boxPlot(47.7, r2Box, [{t: "R"}, {t: "2", sup: true}], 18);
boxPlot(311, pearsonBox, [{t: "Pearson's correlation"}], 280);
boxPlot(579.3, rmsreBox, [{t: "RMSRE"}], 545);
</script>
</body></html>
